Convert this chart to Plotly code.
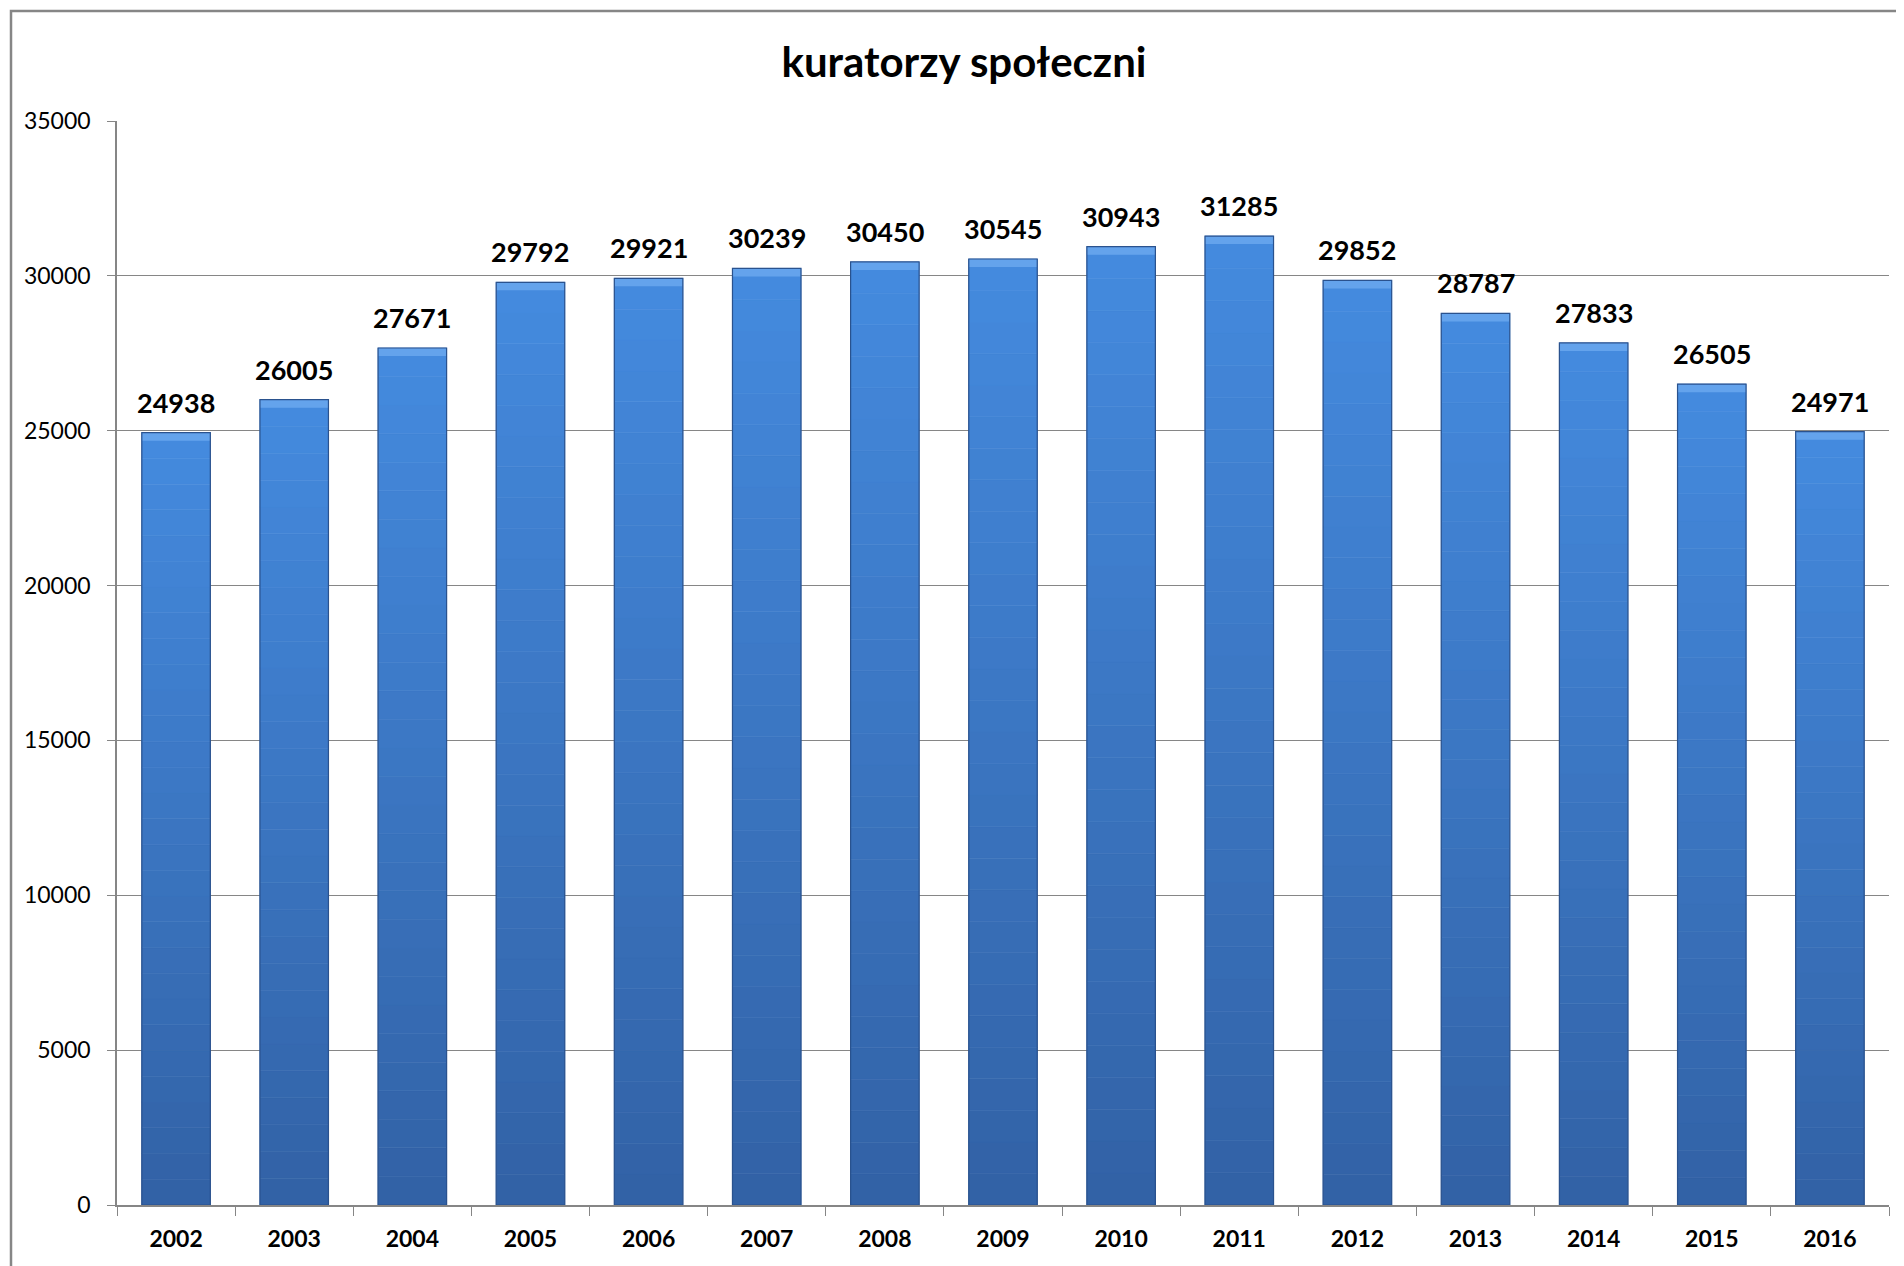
import plotly.graph_objects as go

years = ["2002", "2003", "2004", "2005", "2006", "2007", "2008", "2009",
         "2010", "2011", "2012", "2013", "2014", "2015", "2016"]
values = [24938, 26005, 27671, 29792, 29921, 30239, 30450, 30545,
          30943, 31285, 29852, 28787, 27833, 26505, 24971]
y_ticks = [0, 5000, 10000, 15000, 20000, 25000, 30000, 35000]

W, H = 1904, 1266
OFF = 8  # page body margin
top_rgb = (68, 138, 222)
bot_rgb = (50, 98, 166)
N = 30
CAP = 260  # height of the light bevel at the top of each bar (data units)

fig = go.Figure()
# vertical gradient: stacked slices of each bar, dark at bottom, light at top
for k in range(N):
    t = k / (N - 1)
    c = tuple(round(bot_rgb[i] + (top_rgb[i] - bot_rgb[i]) * t) for i in range(3))
    col = "rgb(%d,%d,%d)" % c
    fig.add_trace(go.Bar(
        x=years,
        y=[v / N for v in values],
        base=[v * k / N for v in values],
        marker=dict(color=col, line=dict(width=0.6, color=col)),
        hoverinfo="skip",
        showlegend=False,
    ))
# light bevel at top
fig.add_trace(go.Bar(
    x=years, y=[CAP] * len(values), base=[v - CAP for v in values],
    marker=dict(color="rgb(100,163,236)", line=dict(width=0)),
    hoverinfo="skip", showlegend=False,
))
# outline / edge
fig.add_trace(go.Bar(
    x=years, y=values,
    marker=dict(color="rgba(0,0,0,0)", line=dict(width=1.2, color="rgb(42,82,142)")),
    showlegend=False,
))

for i, v in enumerate(values):
    fig.add_annotation(x=i, y=v, text="%d" % v, showarrow=False,
                       yanchor="bottom", yshift=12,
                       font=dict(family="Lato", size=27, color="black", weight="bold"))

# outer chart border (left and top visible)
pw = 1889 - 117
ph = 1205 - 121
fig.add_shape(type="rect", xref="paper", yref="paper",
              x0=-(117 - 11) / pw, x1=1 + (1910 - 1889) / pw,
              y0=-(1280 - 1205) / ph, y1=1 + (121 - 11) / ph,
              line=dict(color="rgb(134,134,134)", width=2.5), layer="below")

fig.update_layout(
    width=W, height=H,
    margin=dict(l=117 - OFF, r=15 + OFF, t=121 - OFF, b=61 + OFF),
    paper_bgcolor="white", plot_bgcolor="white",
    barmode="overlay", bargap=0.42,
    showlegend=False,
    font=dict(family="Lato", color="black"),
    title=dict(text="kuratorzy społeczni", x=(964 - OFF) / W, y=1 - (62 - OFF) / H,
               xref="container", yref="container",
               xanchor="center", yanchor="middle",
               font=dict(family="Lato", size=42, color="black", weight="bold")),
)
fig.update_xaxes(type="category", range=[-0.5, len(years) - 0.5],
                 showline=True, linecolor="rgb(134,134,134)", linewidth=1.5,
                 ticks="outside", tickson="boundaries", ticklen=9, tickcolor="rgb(134,134,134)",
                 tickfont=dict(family="Lato", size=23, color="black", weight="bold"),
                 ticklabelstandoff=13, showgrid=False, tickangle=0)
fig.update_yaxes(range=[0, 35000], tickvals=y_ticks, tickformat="d", showline=True,
                 linecolor="rgb(134,134,134)", linewidth=1.5,
                 ticks="outside", ticklen=8, tickcolor="rgb(134,134,134)",
                 showgrid=True, gridcolor="rgb(134,134,134)", gridwidth=1.2,
                 tickfont=dict(family="Lato", size=23, color="black"),
                 ticklabelstandoff=12, zeroline=False)

fig.write_html("out.html")
